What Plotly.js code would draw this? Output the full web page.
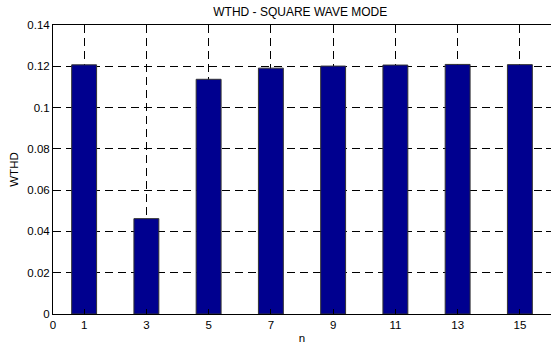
<!DOCTYPE html>
<html><head><meta charset="utf-8">
<script src="https://cdn.plot.ly/plotly-3.0.1.min.js"></script>
<style>html,body{margin:0;padding:0;background:#fff}</style>
</head><body>
<div id="chart" style="width:551px;height:349px"></div>
<script>
const harmonics = [1, 3, 5, 7, 9, 11, 13, 15];
const wthd = [0.1207, 0.0462, 0.1137, 0.1191, 0.1201, 0.1206, 0.1209, 0.1208];
const xTicks = [0, 1, 3, 5, 7, 9, 11, 13, 15];
const yTicks = [0, 0.02, 0.04, 0.06, 0.08, 0.1, 0.12, 0.14];
const yTickText = ['0', '0.02', '0.04', '0.06', '0.08', '0.1', '0.12', '0.14'];

const fam = 'Liberation Sans, Arial, sans-serif';
const font = {family: fam, size: 11.5, color: '#000'};
const titleFont = {family: fam, size: 12, color: '#000'};
Plotly.newPlot('chart', [{
  type: 'bar', x: harmonics, y: wthd, width: 0.8,
  marker: {color: '#00008F', line: {color: '#333', width: 1}}
}], {
  width: 551, height: 349,
  margin: {l: 53, r: 0, t: 25, b: 35},
  paper_bgcolor: '#fff', plot_bgcolor: '#fff',
  font: font, showlegend: false,
  title: {text: 'WTHD - SQUARE WAVE MODE', font: titleFont, x: 0.545, xanchor: 'center', y: 0.965, yanchor: 'middle'},
  xaxis: {range: [0, 16], tickvals: xTicks, ticktext: xTicks.map(String),
    ticks: 'inside', ticklen: 5, tickcolor: '#000', showline: true, linecolor: '#000', linewidth: 1,
    mirror: 'ticks', showgrid: true, gridcolor: '#000', griddash: '8px,5px', gridwidth: 1, zeroline: false,
    tickfont: font, title: {text: 'n', font: font, standoff: 4}},
  yaxis: {range: [0, 0.14], tickvals: yTicks, ticktext: yTickText,
    ticks: 'inside', ticklen: 5, tickcolor: '#000', showline: true, linecolor: '#000', linewidth: 1,
    mirror: 'ticks', showgrid: true, gridcolor: '#000', griddash: '8px,5px', gridwidth: 1, zeroline: false,
    tickfont: font, title: {text: 'WTHD', font: font, standoff: 6}}
}, {displayModeBar: false, staticPlot: true});
</script>
</body></html>
